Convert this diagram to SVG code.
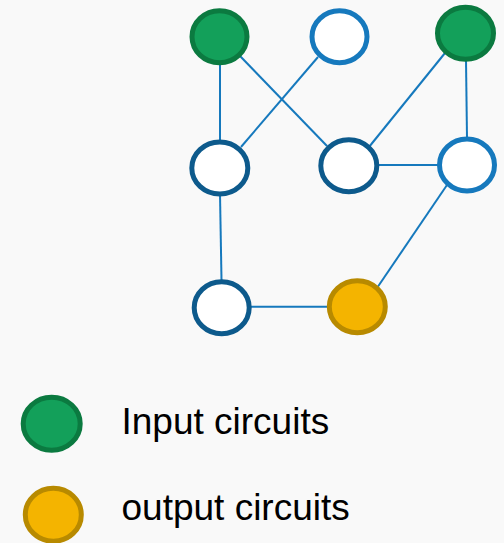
<svg xmlns="http://www.w3.org/2000/svg" width="504" height="543" viewBox="0 0 504 543">
<style>
.edge{stroke:#1679bd;stroke-width:2;fill:none}
.n{stroke-width:5}
.in{fill:#13a05a;stroke:#0b7a40}
.out{fill:#f4b400;stroke:#b88a00}
.lb{fill:#fff;stroke:#1679bd}
.db{fill:#fff;stroke:#0d5a8c}
.t{font-family:"Liberation Sans",Arial,sans-serif;font-size:37px;fill:#000}
</style>
<rect width="504" height="543" fill="#f9f9f9"/>
<g id="connectors">
<line class="edge" x1="220" y1="62" x2="220" y2="142"/>
<line class="edge" x1="240" y1="56" x2="327" y2="146"/>
<line class="edge" x1="318" y1="57" x2="241" y2="147"/>
<line class="edge" x1="445" y1="53" x2="369" y2="147"/>
<line class="edge" x1="466" y1="60" x2="467" y2="138"/>
<line class="edge" x1="378" y1="165" x2="438" y2="165"/>
<line class="edge" x1="447" y1="185" x2="377" y2="288"/>
<line class="edge" x1="220" y1="194" x2="221.5" y2="280"/>
<line class="edge" x1="251" y1="306.7" x2="327" y2="306.7"/>
</g>
<g id="n1"><ellipse class="n in" cx="219.5" cy="36.7" rx="27.5" ry="26"/></g>
<g id="n2"><ellipse class="n lb" cx="339.5" cy="36.7" rx="27.5" ry="26"/></g>
<g id="n3"><ellipse class="n in" cx="465.5" cy="33.3" rx="28" ry="26"/></g>
<g id="n4"><ellipse class="n db" cx="219.8" cy="168" rx="28" ry="26"/></g>
<g id="n5"><ellipse class="n db" cx="348.8" cy="165.7" rx="28" ry="26"/></g>
<g id="n6"><ellipse class="n lb" cx="467" cy="165" rx="27.5" ry="26"/></g>
<g id="n7"><ellipse class="n db" cx="221.7" cy="307.7" rx="27.5" ry="26"/></g>
<g id="n8"><ellipse class="n out" cx="357.3" cy="306.7" rx="28" ry="26"/></g>
<g id="legend-input">
<ellipse class="n in" cx="51.7" cy="423.7" rx="28.5" ry="26.5"/>
<text class="t" x="121.5" y="434">Input circuits</text>
</g>
<g id="legend-output">
<ellipse class="n out" cx="53.3" cy="514.7" rx="28" ry="26.5"/>
<text class="t" x="121.5" y="520">output circuits</text>
</g>
</svg>
